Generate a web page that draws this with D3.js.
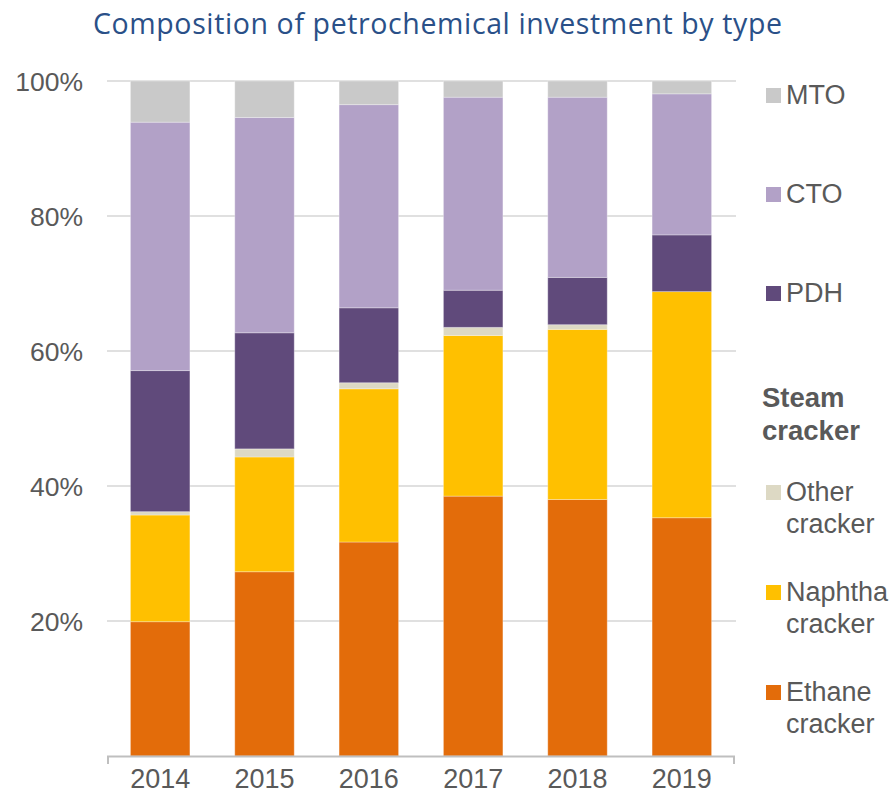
<!DOCTYPE html>
<html>
<head>
<meta charset="utf-8">
<script src="https://cdn.jsdelivr.net/npm/d3@7"></script>
<style>
  body { margin: 0; background: #fff; }
  text { font-family: "Liberation Sans", Arial, sans-serif; }
</style>
</head>
<body>
<svg id="chart" width="893" height="793"></svg>
<script>
// shares, in % of total per year
var years   = ['2014', '2015', '2016', '2017', '2018', '2019'];
var ethane  = [19.9, 27.3, 31.7, 38.5, 38.0, 35.3];
var naphtha = [15.8, 17.0, 22.7, 23.8, 25.2, 33.5];
var other   = [0.5, 1.2, 0.9, 1.2, 0.7, 0.0];
var pdh     = [20.9, 17.2, 11.1, 5.5, 7.0, 8.4];
var cto     = [36.8, 31.9, 30.1, 28.6, 26.7, 20.9];
var mto     = [6.1, 5.4, 3.5, 2.4, 2.4, 1.9];
var y_ticks = [0.2, 0.4, 0.6, 0.8, 1.0];

var keys   = ['ethane', 'naphtha', 'other', 'pdh', 'cto', 'mto'];
var colors = {
  ethane: '#e36c0a', naphtha: '#ffc000', other: '#ddd9c4',
  pdh: '#604a7b', cto: '#b2a1c7', mto: '#c9c9c9'
};

var rows = years.map((y, i) => ({
  year: y, ethane: ethane[i], naphtha: naphtha[i], other: other[i],
  pdh: pdh[i], cto: cto[i], mto: mto[i]
}));

var svg = d3.select('#chart');

var x = d3.scaleBand()
  .domain(years)
  .range([108, 734])
  .paddingInner(0.43)
  .paddingOuter(0.215);

var y = d3.scaleLinear()
  .domain([0, 1])
  .range([756, 81]);

// title
svg.append('text')
  .attr('x', 93)
  .attr('y', 34)
  .attr('fill', '#2a5088')
  .attr('textLength', 689)
  .attr('lengthAdjust', 'spacing')
  .style('font-family', '"Open Sans", sans-serif')
  .style('font-size', '28.5px')
  .text('Composition of petrochemical investment by type');

// gridlines
svg.append('g')
  .selectAll('line')
  .data(y_ticks)
  .enter()
  .append('line')
  .attr('x1', 107)
  .attr('x2', 736)
  .attr('y1', (d) => y(d))
  .attr('y2', (d) => y(d))
  .attr('stroke', '#e0e0e0')
  .attr('stroke-width', 2);

// y labels
svg.append('g')
  .selectAll('text')
  .data(y_ticks)
  .enter()
  .append('text')
  .attr('x', 83)
  .attr('y', (d) => y(d) + 9.5)
  .attr('text-anchor', 'end')
  .attr('fill', '#595959')
  .style('font-size', '26.5px')
  .text(d3.format('.0%'));

var series = d3.stack().keys(keys)(rows.map((r) => {
  var o = { year: r.year };
  keys.forEach((k) => o[k] = r[k] / 100);
  return o;
}));

svg.append('g')
  .selectAll('g')
  .data(series)
  .enter()
  .append('g')
  .attr('fill', (d) => colors[d.key])
  .selectAll('rect')
  .data((d) => d)
  .enter()
  .append('rect')
  .attr('x', (d) => x(d.data.year))
  .attr('width', x.bandwidth())
  .attr('y', (d) => y(d[1]))
  .attr('height', (d) => Math.max(0, y(d[0]) - y(d[1])))
  .attr('stroke', 'rgba(255,255,255,0.3)')
  .attr('stroke-width', 1);

// x axis
var xa = svg.append('g');
xa.append('path')
  .attr('d', 'M108,764V756.5H734V764')
  .attr('fill', 'none')
  .attr('stroke', '#bfbfbf')
  .attr('stroke-width', 2);

xa.selectAll('text')
  .data(years)
  .enter()
  .append('text')
  .attr('x', (d) => x(d) + x.bandwidth() / 2)
  .attr('y', 788)
  .attr('text-anchor', 'middle')
  .attr('fill', '#595959')
  .style('font-size', '27px')
  .text((d) => d);

// legend
var legend = [
  { key: 'mto',     lines: ['MTO'],               y: 104 },
  { key: 'cto',     lines: ['CTO'],               y: 203 },
  { key: 'pdh',     lines: ['PDH'],               y: 302 },
  { key: 'other',   lines: ['Other', 'cracker'],  y: 501 },
  { key: 'naphtha', lines: ['Naphtha', 'cracker'], y: 601 },
  { key: 'ethane',  lines: ['Ethane', 'cracker'], y: 701 }
];

var lg = svg.append('g')
  .selectAll('g')
  .data(legend)
  .enter()
  .append('g');

lg.append('rect')
  .attr('x', 766)
  .attr('y', (d) => d.y - 16)
  .attr('width', 15)
  .attr('height', 15)
  .attr('fill', (d) => colors[d.key]);

lg.append('text')
  .attr('x', 786)
  .attr('y', (d) => d.y)
  .attr('fill', '#595959')
  .style('font-size', '27px')
  .selectAll('tspan')
  .data((d) => d.lines)
  .enter()
  .append('tspan')
  .attr('x', 786)
  .attr('dy', (d, i) => i === 0 ? 0 : 31.5)
  .text((d) => d);

svg.append('text')
  .attr('x', 762)
  .attr('y', 407)
  .attr('fill', '#595959')
  .style('font-size', '27.5px')
  .style('font-weight', 'bold')
  .selectAll('tspan')
  .data(['Steam', 'cracker'])
  .enter()
  .append('tspan')
  .attr('x', 762)
  .attr('dy', (d, i) => i === 0 ? 0 : 32.5)
  .text((d) => d);
</script>
</body>
</html>
